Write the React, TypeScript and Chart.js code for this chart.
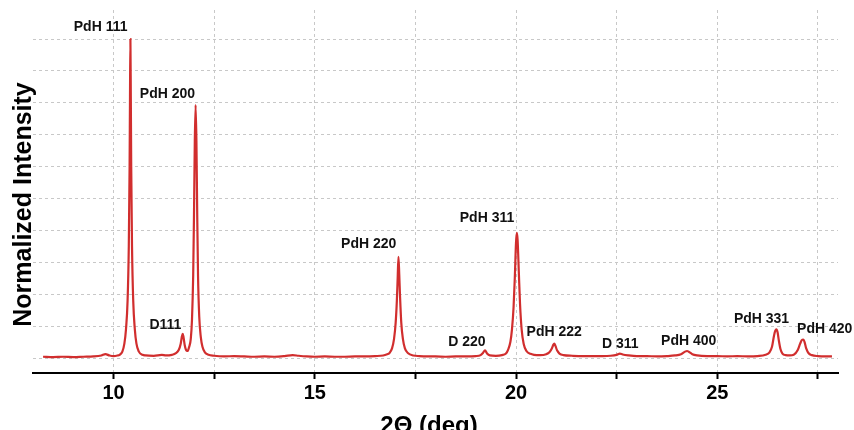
import { useEffect, useRef } from 'react';
import { Chart, registerables } from 'chart.js';

Chart.register(...registerables);

const FONT = "'Liberation Sans', Arial, Helvetica, sans-serif";

const twoTheta = [
  8.25, 8.5, 8.75, 9.0, 9.25, 9.5, 9.7, 9.8, 9.9, 10.0, 10.1, 10.15, 10.22,
  10.27, 10.31, 10.35, 10.38, 10.4, 10.41, 10.42, 10.43, 10.44, 10.46, 10.49, 10.53, 10.57, 10.63, 10.72,
  10.8, 11.0, 11.2, 11.3, 11.45, 11.55, 11.62, 11.67, 11.7, 11.72, 11.74, 11.77, 11.8, 11.84, 11.88,
  11.92, 11.95, 11.98, 12.0, 12.02, 12.04, 12.06, 12.08, 12.1, 12.13, 12.17, 12.21, 12.27, 12.36,
  12.5, 12.75, 13.0, 13.25, 13.5, 13.75, 14.0, 14.25, 14.45, 14.6, 14.8, 15.0, 15.25, 15.5, 15.75,
  16.0, 16.25, 16.5, 16.7, 16.8,
  16.85, 16.92, 16.97, 17.01, 17.04, 17.06, 17.08, 17.1, 17.12, 17.15, 17.19, 17.24, 17.32, 17.45,
  17.6, 17.8, 18.0, 18.25, 18.5, 18.75, 19.0, 19.12, 19.18, 19.23, 19.28, 19.35, 19.5, 19.65, 19.75,
  19.8, 19.86, 19.9, 19.94, 19.97, 20.0, 20.02, 20.04, 20.07, 20.1, 20.14, 20.19, 20.26, 20.36, 20.45, 20.6,
  20.75, 20.83, 20.89, 20.93, 20.95, 20.98, 21.02, 21.08, 21.18,
  21.4, 21.65, 21.9, 22.15, 22.35, 22.5, 22.58, 22.65, 22.8, 23.0, 23.25, 23.5, 23.75, 23.95,
  24.1, 24.2, 24.25, 24.3, 24.38, 24.5, 24.75, 25.0, 25.25, 25.5, 25.75, 26.0, 26.2, 26.3,
  26.36, 26.41, 26.44, 26.47, 26.5, 26.53, 26.57, 26.62, 26.7, 26.8, 26.9,
  27.0, 27.06, 27.1, 27.14, 27.17, 27.21, 27.27, 27.35, 27.5, 27.7, 27.85,
];

const intensity = [
  0.004, 0.003, 0.004, 0.003, 0.004, 0.005, 0.008, 0.012, 0.008, 0.006, 0.008, 0.01, 0.02,
  0.045, 0.09, 0.18, 0.35, 0.6, 0.82, 1.0, 0.82, 0.6, 0.35, 0.18, 0.09, 0.045, 0.02, 0.01,
  0.008, 0.007, 0.01, 0.008, 0.01, 0.015, 0.025, 0.045, 0.068, 0.076, 0.065, 0.04, 0.026, 0.022, 0.035,
  0.06, 0.12, 0.26, 0.45, 0.68, 0.793, 0.68, 0.45, 0.26, 0.13, 0.065, 0.035, 0.018, 0.01,
  0.007, 0.005, 0.006, 0.005, 0.004, 0.005, 0.004, 0.006, 0.009, 0.007, 0.005, 0.004, 0.005, 0.004, 0.004,
  0.005, 0.005, 0.006, 0.008, 0.012,
  0.015, 0.03, 0.06, 0.11, 0.18, 0.25, 0.317, 0.26, 0.19, 0.11, 0.06, 0.03, 0.015, 0.008,
  0.006, 0.005, 0.005, 0.004, 0.005, 0.005, 0.006, 0.009, 0.016, 0.024, 0.014, 0.008, 0.007, 0.009, 0.014,
  0.025, 0.05, 0.09, 0.16, 0.25, 0.36, 0.392, 0.37, 0.27, 0.17, 0.09, 0.045, 0.022, 0.013, 0.01, 0.009,
  0.012, 0.018, 0.03, 0.042, 0.045, 0.038, 0.024, 0.014, 0.009,
  0.007, 0.006, 0.006, 0.006, 0.007, 0.01, 0.014, 0.011, 0.008, 0.006, 0.006, 0.005, 0.006, 0.008,
  0.012, 0.02, 0.022, 0.019, 0.012, 0.008, 0.006, 0.006, 0.005, 0.006, 0.005, 0.006, 0.01, 0.018,
  0.035, 0.07, 0.085, 0.09, 0.08, 0.055, 0.028, 0.014, 0.009, 0.008, 0.01,
  0.025, 0.045, 0.056, 0.058, 0.05, 0.03, 0.015, 0.009, 0.006, 0.005, 0.005,
];

const peakNames = ['PdH 111', 'PdH 200', 'D111', 'PdH 220', 'D 220', 'PdH 311', 'PdH 222', 'D 311', 'PdH 400', 'PdH 331', 'PdH 420'];
const peakLabelX = [9.68, 11.34, 11.29, 16.34, 18.78, 19.28, 20.95, 22.59, 24.29, 26.1, 27.67];
const peakLabelY = [1.037, 0.828, 0.103, 0.357, 0.05, 0.439, 0.082, 0.044, 0.053, 0.122, 0.09];

const xTickValues = [10, 12.5, 15, 17.5, 20, 22.5, 25, 27.5];
const xLabeled = [10, 15, 20, 25];
const yGridValues = [0, 0.1, 0.2, 0.3, 0.4, 0.5, 0.6, 0.7, 0.8, 0.9, 1.0];

const xTitle = '2\u0398 (deg)';
const yTitle = 'Normalized Intensity';

export default function App() {
  const ref = useRef<HTMLCanvasElement | null>(null);

  useEffect(() => {
    document.body.style.margin = '0';
    const canvas = ref.current;
    if (!canvas) return;

    const textPlugin = {
      id: 'textPlugin',
      afterDatasetsDraw(chart: any) {
        const { ctx, chartArea: ca } = chart;
        const xs = chart.scales.x;
        const ys = chart.scales.y;
        ctx.save();
        ctx.fillStyle = '#111111';
        ctx.textAlign = 'center';
        ctx.textBaseline = 'middle';
        ctx.font = `bold 14px ${FONT}`;
        peakNames.forEach((n, i) => {
          ctx.fillText(n, xs.getPixelForValue(peakLabelX[i]), ys.getPixelForValue(peakLabelY[i]));
        });
        ctx.restore();

        ctx.save();
        ctx.fillStyle = '#000000';
        ctx.textAlign = 'center';
        ctx.textBaseline = 'alphabetic';
        ctx.translate(31, (ca.top + ca.bottom) / 2 + 13);
        ctx.rotate(-Math.PI / 2);
        ctx.font = `bold 25px ${FONT}`;
        ctx.fillText(yTitle, 0, 0);
        ctx.restore();

        ctx.save();
        ctx.fillStyle = '#000000';
        ctx.textAlign = 'center';
        ctx.textBaseline = 'alphabetic';
        ctx.font = `bold 24px ${FONT}`;
        ctx.fillText(xTitle, 429, 433);
        ctx.restore();
      },
    };

    const chart = new Chart(canvas, {
      type: 'line',
      data: {
        datasets: [
          {
            data: twoTheta.map((t, i) => ({ x: t, y: intensity[i] })),
            borderColor: '#d12e2e',
            borderWidth: 2.2,
            pointRadius: 0,
            cubicInterpolationMode: 'monotone',
            fill: false,
          },
        ],
      },
      options: {
        animation: false,
        responsive: false,
        maintainAspectRatio: false,
        layout: { padding: { left: 0, right: 16, top: 10, bottom: 0 } },
        plugins: { legend: { display: false }, tooltip: { enabled: false } },
        scales: {
          x: {
            type: 'linear',
            min: 8,
            max: 28,
            afterBuildTicks: (scale: any) => {
              scale.ticks = xTickValues.map((v) => ({ value: v }));
            },
            afterFit: (scale: any) => {
              scale.height = 57;
            },
            ticks: {
              autoSkip: false,
              maxRotation: 0,
              padding: 2,
              color: '#000000',
              font: { family: FONT, size: 20, weight: 'bold' },
              callback: (v: any) => (xLabeled.includes(Number(v)) ? String(v) : ''),
            },
            grid: {
              color: '#c8c8c8',
              lineWidth: 1,
              drawTicks: true,
              tickLength: 6,
              tickColor: '#000000',
              tickWidth: 2,
              tickBorderDash: [0, 0],
            },
            border: { display: true, color: '#000000', width: 2, dash: [3, 3] },
          },
          y: {
            type: 'linear',
            min: -0.047,
            max: 1.091,
            afterBuildTicks: (scale: any) => {
              scale.ticks = yGridValues.map((v) => ({ value: v }));
            },
            afterFit: (scale: any) => {
              scale.width = 33;
            },
            ticks: { display: false },
            grid: {
              color: '#c8c8c8',
              lineWidth: 1,
              drawTicks: false,
            },
            border: { display: false, dash: [3, 3] },
          },
        },
      },
      plugins: [textPlugin],
    } as any);

    return () => chart.destroy();
  }, []);

  return (
    <div style={{ width: 854, height: 430, position: 'relative' }}>
      <canvas ref={ref} width={854} height={430} />
    </div>
  );
}
